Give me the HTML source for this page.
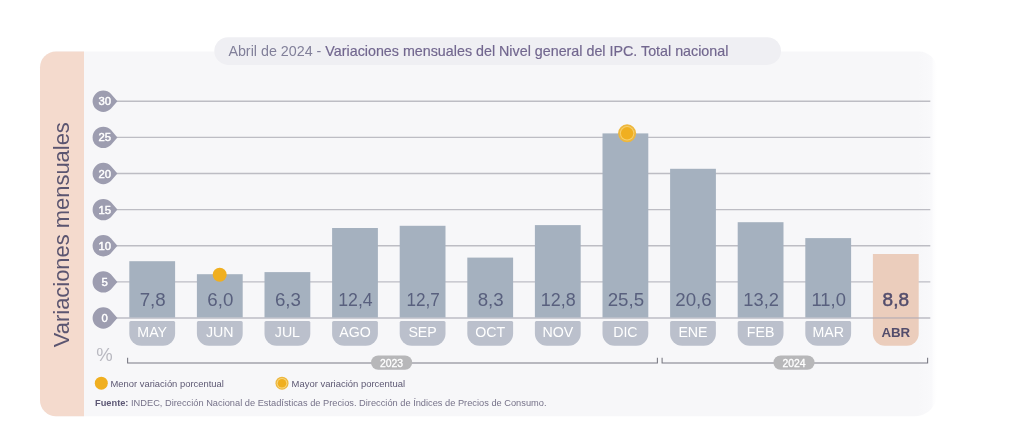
<!DOCTYPE html>
<html lang="es">
<head>
<meta charset="utf-8">
<title>Variaciones mensuales del Nivel general del IPC</title>
<style>
html,body{margin:0;padding:0;background:#fff;}
body{width:1024px;height:442px;overflow:hidden;}
svg{display:block;}
text{font-family:"Liberation Sans",sans-serif;}
</style>
</head>
<body>
<svg width="1024" height="442" viewBox="0 0 1024 442">

<defs><linearGradient id="pg" gradientUnits="userSpaceOnUse" x1="918" y1="0" x2="937" y2="0"><stop offset="0" stop-color="#f7f7f9"/><stop offset="0.72" stop-color="#f9f9fb"/><stop offset="0.8" stop-color="#fcfcfd"/><stop offset="1" stop-color="#ffffff"/></linearGradient></defs>
<path d="M56 51.6 H919 A18 18 0 0 1 937 69.6 V394.2 A22 22 0 0 1 915 416.2 H56 A16 16 0 0 1 40 400.2 V67.6 A16 16 0 0 1 56 51.6 Z" fill="url(#pg)"/>
<path d="M56 51.6 H84 V416.2 H56 A16 16 0 0 1 40 400.2 V67.6 A16 16 0 0 1 56 51.6 Z" fill="#f4dacd"/>
<rect x="214.3" y="37.2" width="566.7" height="27.7" rx="13.85" fill="#efeff3"/>
<text x="228.4" y="55.9" font-size="14.3" textLength="500" lengthAdjust="spacingAndGlyphs"><tspan fill="#82809a">Abril de 2024 - </tspan><tspan fill="#72678f" stroke="#72678f" stroke-width="0.18">Variaciones mensuales del Nivel general del IPC. Total nacional</tspan></text>
<text transform="translate(69.2 347.2) rotate(-90)" font-size="22.3" fill="#5b5570" textLength="225" lengthAdjust="spacingAndGlyphs">Variaciones mensuales</text>
<line x1="112" y1="318.0" x2="930.3" y2="318.0" stroke="#bdbdc4" stroke-width="1.4"/>
<path d="M110.86 310.44 L117.42 318.00 L110.86 325.56 A10.7 10.7 0 1 1 110.86 310.44 Z" fill="#9d9db0"/>
<text x="104.7" y="322.0" font-size="11.3" fill="#ffffff" stroke="#ffffff" stroke-width="0.45" text-anchor="middle">0</text>
<line x1="112" y1="281.9" x2="930.3" y2="281.9" stroke="#bdbdc4" stroke-width="1.4"/>
<path d="M110.86 274.31 L117.42 281.88 L110.86 289.44 A10.7 10.7 0 1 1 110.86 274.31 Z" fill="#9d9db0"/>
<text x="104.7" y="285.9" font-size="11.3" fill="#ffffff" stroke="#ffffff" stroke-width="0.45" text-anchor="middle">5</text>
<line x1="112" y1="245.8" x2="930.3" y2="245.8" stroke="#bdbdc4" stroke-width="1.4"/>
<path d="M110.86 238.19 L117.42 245.75 L110.86 253.31 A10.7 10.7 0 1 1 110.86 238.19 Z" fill="#9d9db0"/>
<text x="104.7" y="249.8" font-size="11.3" fill="#ffffff" stroke="#ffffff" stroke-width="0.45" text-anchor="middle">10</text>
<line x1="112" y1="209.6" x2="930.3" y2="209.6" stroke="#bdbdc4" stroke-width="1.4"/>
<path d="M110.86 202.06 L117.42 209.62 L110.86 217.19 A10.7 10.7 0 1 1 110.86 202.06 Z" fill="#9d9db0"/>
<text x="104.7" y="213.6" font-size="11.3" fill="#ffffff" stroke="#ffffff" stroke-width="0.45" text-anchor="middle">15</text>
<line x1="112" y1="173.5" x2="930.3" y2="173.5" stroke="#bdbdc4" stroke-width="1.4"/>
<path d="M110.86 165.94 L117.42 173.50 L110.86 181.06 A10.7 10.7 0 1 1 110.86 165.94 Z" fill="#9d9db0"/>
<text x="104.7" y="177.5" font-size="11.3" fill="#ffffff" stroke="#ffffff" stroke-width="0.45" text-anchor="middle">20</text>
<line x1="112" y1="137.4" x2="930.3" y2="137.4" stroke="#bdbdc4" stroke-width="1.4"/>
<path d="M110.86 129.81 L117.42 137.38 L110.86 144.94 A10.7 10.7 0 1 1 110.86 129.81 Z" fill="#9d9db0"/>
<text x="104.7" y="141.4" font-size="11.3" fill="#ffffff" stroke="#ffffff" stroke-width="0.45" text-anchor="middle">25</text>
<line x1="112" y1="101.2" x2="930.3" y2="101.2" stroke="#bdbdc4" stroke-width="1.4"/>
<path d="M110.86 93.69 L117.42 101.25 L110.86 108.81 A10.7 10.7 0 1 1 110.86 93.69 Z" fill="#9d9db0"/>
<text x="104.7" y="105.2" font-size="11.3" fill="#ffffff" stroke="#ffffff" stroke-width="0.45" text-anchor="middle">30</text>
<rect x="129.3" y="261.2" width="45.8" height="56.3" fill="#a5b1bf"/>
<path d="M130.8 320.9 H173.6 Q175.1 320.9 175.1 322.4 V333.8 A12 12 0 0 1 163.1 345.8 H141.3 A12 12 0 0 1 129.3 333.8 V322.4 Q129.3 320.9 130.8 320.9 Z" fill="#bbc0cc"/>
<text x="152.2" y="337" font-size="14.2" fill="#ffffff" text-anchor="middle">MAY</text>
<text x="139.7" y="305.8" font-size="18.7" fill="#59607e" textLength="26.0" lengthAdjust="spacingAndGlyphs">7,8</text>
<rect x="196.9" y="274.2" width="45.8" height="43.2" fill="#a5b1bf"/>
<path d="M198.4 320.9 H241.2 Q242.7 320.9 242.7 322.4 V333.8 A12 12 0 0 1 230.7 345.8 H208.9 A12 12 0 0 1 196.9 333.8 V322.4 Q196.9 320.9 198.4 320.9 Z" fill="#bbc0cc"/>
<text x="219.8" y="337" font-size="14.2" fill="#ffffff" text-anchor="middle">JUN</text>
<text x="207.3" y="305.8" font-size="18.7" fill="#59607e" textLength="26.0" lengthAdjust="spacingAndGlyphs">6,0</text>
<rect x="264.5" y="272.1" width="45.8" height="45.4" fill="#a5b1bf"/>
<path d="M266.0 320.9 H308.8 Q310.3 320.9 310.3 322.4 V333.8 A12 12 0 0 1 298.3 345.8 H276.5 A12 12 0 0 1 264.5 333.8 V322.4 Q264.5 320.9 266.0 320.9 Z" fill="#bbc0cc"/>
<text x="287.4" y="337" font-size="14.2" fill="#ffffff" text-anchor="middle">JUL</text>
<text x="274.9" y="305.8" font-size="18.7" fill="#59607e" textLength="26.0" lengthAdjust="spacingAndGlyphs">6,3</text>
<rect x="332.1" y="228.0" width="45.8" height="89.5" fill="#a5b1bf"/>
<path d="M333.6 320.9 H376.4 Q377.9 320.9 377.9 322.4 V333.8 A12 12 0 0 1 365.9 345.8 H344.1 A12 12 0 0 1 332.1 333.8 V322.4 Q332.1 320.9 333.6 320.9 Z" fill="#bbc0cc"/>
<text x="355.0" y="337" font-size="14.2" fill="#ffffff" text-anchor="middle">AGO</text>
<text x="338.2" y="305.8" font-size="18.7" fill="#59607e" textLength="34.5" lengthAdjust="spacingAndGlyphs">12,4</text>
<rect x="399.7" y="225.8" width="45.8" height="91.7" fill="#a5b1bf"/>
<path d="M401.2 320.9 H444.0 Q445.5 320.9 445.5 322.4 V333.8 A12 12 0 0 1 433.5 345.8 H411.7 A12 12 0 0 1 399.7 333.8 V322.4 Q399.7 320.9 401.2 320.9 Z" fill="#bbc0cc"/>
<text x="422.6" y="337" font-size="14.2" fill="#ffffff" text-anchor="middle">SEP</text>
<text x="406.4" y="305.8" font-size="18.7" fill="#59607e" textLength="33.4" lengthAdjust="spacingAndGlyphs">12,7</text>
<rect x="467.3" y="257.6" width="45.8" height="59.9" fill="#a5b1bf"/>
<path d="M468.8 320.9 H511.6 Q513.1 320.9 513.1 322.4 V333.8 A12 12 0 0 1 501.1 345.8 H479.3 A12 12 0 0 1 467.3 333.8 V322.4 Q467.3 320.9 468.8 320.9 Z" fill="#bbc0cc"/>
<text x="490.2" y="337" font-size="14.2" fill="#ffffff" text-anchor="middle">OCT</text>
<text x="477.7" y="305.8" font-size="18.7" fill="#59607e" textLength="26.0" lengthAdjust="spacingAndGlyphs">8,3</text>
<rect x="534.9" y="225.1" width="45.8" height="92.4" fill="#a5b1bf"/>
<path d="M536.4 320.9 H579.2 Q580.7 320.9 580.7 322.4 V333.8 A12 12 0 0 1 568.7 345.8 H546.9 A12 12 0 0 1 534.9 333.8 V322.4 Q534.9 320.9 536.4 320.9 Z" fill="#bbc0cc"/>
<text x="557.8" y="337" font-size="14.2" fill="#ffffff" text-anchor="middle">NOV</text>
<text x="540.8" y="305.8" font-size="18.7" fill="#59607e" textLength="34.9" lengthAdjust="spacingAndGlyphs">12,8</text>
<rect x="602.5" y="133.4" width="45.8" height="184.1" fill="#a5b1bf"/>
<path d="M604.0 320.9 H646.8 Q648.3 320.9 648.3 322.4 V333.8 A12 12 0 0 1 636.3 345.8 H614.5 A12 12 0 0 1 602.5 333.8 V322.4 Q602.5 320.9 604.0 320.9 Z" fill="#bbc0cc"/>
<text x="625.4" y="337" font-size="14.2" fill="#ffffff" text-anchor="middle">DIC</text>
<text x="607.7" y="305.8" font-size="18.7" fill="#59607e" textLength="36.4" lengthAdjust="spacingAndGlyphs">25,5</text>
<rect x="670.1" y="168.8" width="45.8" height="148.7" fill="#a5b1bf"/>
<path d="M671.6 320.9 H714.4 Q715.9 320.9 715.9 322.4 V333.8 A12 12 0 0 1 703.9 345.8 H682.1 A12 12 0 0 1 670.1 333.8 V322.4 Q670.1 320.9 671.6 320.9 Z" fill="#bbc0cc"/>
<text x="693.0" y="337" font-size="14.2" fill="#ffffff" text-anchor="middle">ENE</text>
<text x="675.3" y="305.8" font-size="18.7" fill="#59607e" textLength="36.4" lengthAdjust="spacingAndGlyphs">20,6</text>
<rect x="737.7" y="222.2" width="45.8" height="95.3" fill="#a5b1bf"/>
<path d="M739.2 320.9 H782.0 Q783.5 320.9 783.5 322.4 V333.8 A12 12 0 0 1 771.5 345.8 H749.7 A12 12 0 0 1 737.7 333.8 V322.4 Q737.7 320.9 739.2 320.9 Z" fill="#bbc0cc"/>
<text x="760.6" y="337" font-size="14.2" fill="#ffffff" text-anchor="middle">FEB</text>
<text x="743.3" y="305.8" font-size="18.7" fill="#59607e" textLength="35.6" lengthAdjust="spacingAndGlyphs">13,2</text>
<rect x="805.3" y="238.1" width="45.8" height="79.4" fill="#a5b1bf"/>
<path d="M806.8 320.9 H849.6 Q851.1 320.9 851.1 322.4 V333.8 A12 12 0 0 1 839.1 345.8 H817.3 A12 12 0 0 1 805.3 333.8 V322.4 Q805.3 320.9 806.8 320.9 Z" fill="#bbc0cc"/>
<text x="828.2" y="337" font-size="14.2" fill="#ffffff" text-anchor="middle">MAR</text>
<text x="811.5" y="305.8" font-size="18.7" fill="#59607e" textLength="34.4" lengthAdjust="spacingAndGlyphs">11,0</text>
<rect x="872.9" y="254.0" width="45.8" height="63.5" fill="#ebcdbc"/>
<path d="M874.4 318.0 H917.2 Q918.7 318.0 918.7 319.5 V333.8 A12 12 0 0 1 906.7 345.8 H884.9 A12 12 0 0 1 872.9 333.8 V319.5 Q872.9 318.0 874.4 318.0 Z" fill="#ebcdbc"/>
<text x="895.8" y="337" font-size="13.3" font-weight="bold" fill="#534d6c" text-anchor="middle">ABR</text>
<text x="895.8" y="306" font-size="19" fill="#534d6c" stroke="#534d6c" stroke-width="0.5" text-anchor="middle">8,8</text>
<line x1="872.9" y1="318.0" x2="918.7" y2="318.0" stroke="#c3b3b3" stroke-width="1.4"/>
<circle cx="219.7" cy="274.7" r="7" fill="#f0af20"/>
<circle cx="627.1" cy="133.3" r="9" fill="#edb73e"/>
<circle cx="627.1" cy="133.3" r="7.2" fill="#f6cf6e"/>
<circle cx="627.1" cy="133.3" r="6.2" fill="#f0af20"/>
<text x="96.2" y="361.4" font-size="18.5" fill="#b9b9c1">%</text>
<path d="M127.6 357.7 V363 H657.4 V357.7" fill="none" stroke="#7b7b85" stroke-width="1.1"/>
<path d="M662.1 357.7 V363 H927.6 V357.7" fill="none" stroke="#7b7b85" stroke-width="1.1"/>
<rect x="371.0" y="355.4" width="41.2" height="14.4" rx="7.2" fill="#b7b7b9"/>
<text x="391.6" y="366.5" font-size="10.4" fill="#ffffff" stroke="#ffffff" stroke-width="0.3" text-anchor="middle">2023</text>
<rect x="773.4" y="355.4" width="41.2" height="14.4" rx="7.2" fill="#b7b7b9"/>
<text x="794" y="366.5" font-size="10.4" fill="#ffffff" stroke="#ffffff" stroke-width="0.3" text-anchor="middle">2024</text>
<circle cx="101.3" cy="383.2" r="6.5" fill="#f0af20"/>
<text x="110.5" y="386.6" font-size="9.3" fill="#5d5873" textLength="113.3" lengthAdjust="spacingAndGlyphs">Menor variación porcentual</text>
<circle cx="282" cy="383.2" r="6.5" fill="#edb73e"/>
<circle cx="282" cy="383.2" r="5.3" fill="#f8d67e"/>
<circle cx="282" cy="383.2" r="4.3" fill="#f0af20"/>
<text x="291.6" y="386.6" font-size="9.3" fill="#5d5873" textLength="113.4" lengthAdjust="spacingAndGlyphs">Mayor variación porcentual</text>
<text x="95" y="405.8" font-size="9.3" fill="#767289" textLength="451.5" lengthAdjust="spacingAndGlyphs"><tspan font-weight="bold" fill="#5d5875">Fuente:</tspan> INDEC, Dirección Nacional de Estadísticas de Precios. Dirección de Índices de Precios de Consumo.</text>
</svg>
</body>
</html>
